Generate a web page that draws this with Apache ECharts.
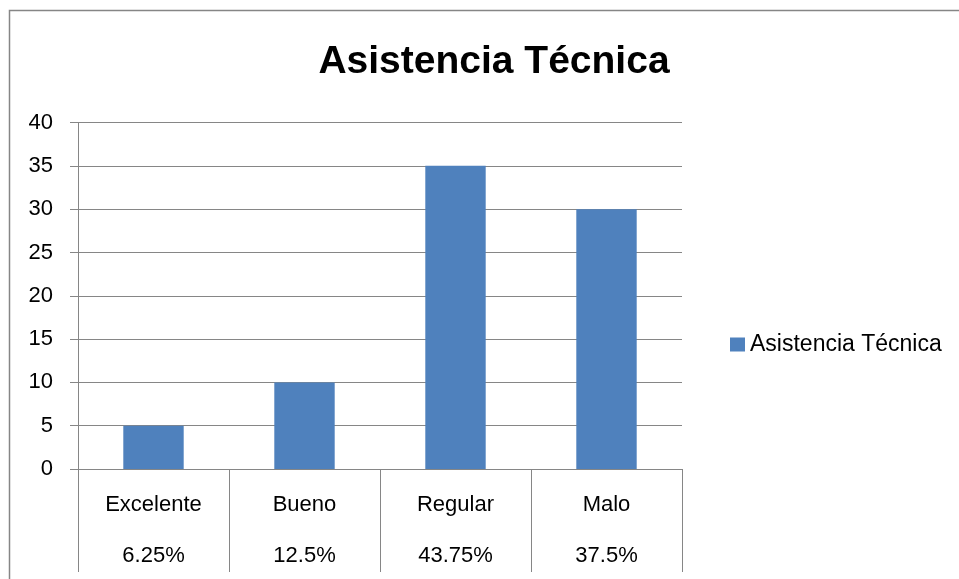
<!DOCTYPE html>
<html>
<head>
<meta charset="utf-8">
<script src="https://cdn.jsdelivr.net/npm/echarts@6/dist/echarts.min.js"></script>
<style>
  html, body { margin: 0; padding: 0; background: #fff; }
  #chart { width: 959px; height: 579px; }
</style>
</head>
<body>
<div id="chart"></div>
<script>
    var categories = ['Excelente', 'Bueno', 'Regular', 'Malo'];
    var percentages = ['6.25%', '12.5%', '43.75%', '37.5%'];
    var values = [5, 10, 35, 30];
    var seriesName = 'Asistencia Técnica';

    var font = 'Liberation Sans';
    var grey = '#868686';

    var myChart = echarts.init(document.getElementById('chart'));
    myChart.setOption({
        animation: false,
        title: {
            text: 'Asistencia Técnica',
            left: 489,
            top: 38,
            textAlign: 'center',
            textStyle: { fontFamily: font, fontSize: 39, fontWeight: 'bold', color: '#000' }
        },
        legend: {
            left: 725,
            top: 328,
            itemWidth: 15,
            itemHeight: 14,
            icon: 'rect',
            textStyle: { fontFamily: font, fontSize: 23, color: '#000' },
            data: [seriesName]
        },
        grid: { left: 78, right: 277, top: 122.5, bottom: 110 },
        xAxis: {
            type: 'category',
            data: categories,
            axisLine: { lineStyle: { color: grey, width: 1 } },
            axisTick: { show: true, interval: 0, length: 103, lineStyle: { color: grey } },
            axisLabel: {
                interval: 0,
                margin: 10,
                formatter: function (val, idx) {
                    return '{a|' + val + '}\n{b|' + percentages[idx] + '}';
                },
                rich: {
                    a: { fontFamily: font, fontSize: 22, color: '#000', lineHeight: 51 },
                    b: { fontFamily: font, fontSize: 22, color: '#000', lineHeight: 51 }
                }
            }
        },
        yAxis: {
            type: 'value',
            min: 0,
            max: 40,
            interval: 5,
            axisLine: { show: true, lineStyle: { color: grey } },
            axisTick: { show: true, length: 8, lineStyle: { color: grey } },
            axisLabel: { margin: 25, fontFamily: font, fontSize: 22, color: '#000' },
            splitLine: { lineStyle: { color: grey, width: 1 } }
        },
        series: [{
            name: seriesName,
            type: 'bar',
            data: values,
            barWidth: '40%',
            itemStyle: { color: '#4F81BD' }
        }],
        graphic: [{
            type: 'rect',
            shape: { x: 9.5, y: 10.5, width: 1000, height: 600 },
            style: { fill: 'none', stroke: grey, lineWidth: 1.5 },
            silent: true
        }]
    });
</script>
</body>
</html>
